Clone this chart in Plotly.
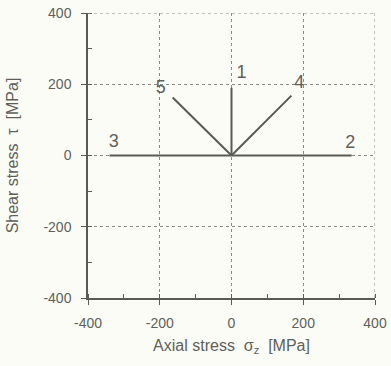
import plotly.graph_objects as go

# Data: load paths from origin (sigma_z, tau) in MPa
path_ids = ["1", "2", "3", "4", "5"]
end_x = [0, 335, -340, 167, -164]
end_y = [190, 0, 0, 168, 163]
label_x = [28, 331, -328, 189, -197]
label_y = [229, 34, 36, 201, 187]

x_ticks = [-400, -200, 0, 200, 400]
y_ticks = [-400, -200, 0, 200, 400]
tick_text = ["-400", "-200", "0", "200", "400"]

line_col = "#5a5a55"
text_col = "#5f5f5a"
font_fam = "Liberation Sans, Arial, sans-serif"

fig = go.Figure()
for pid, ex, ey in zip(path_ids, end_x, end_y):
    fig.add_trace(go.Scatter(x=[0, ex], y=[0, ey], mode="lines",
                             line=dict(color=line_col, width=2),
                             showlegend=False, hoverinfo="skip"))

fig.add_trace(go.Scatter(x=label_x, y=label_y, mode="text", text=path_ids,
                         textfont=dict(size=18, color=text_col, family=font_fam),
                         showlegend=False, hoverinfo="skip"))

axis_common = dict(
    showgrid=True, gridcolor="#8a8a85", gridwidth=1, griddash="dot",
    zeroline=False, showline=True, linecolor=line_col, linewidth=1.5,
    ticks="outside", ticklen=5, tickwidth=1, tickcolor=line_col,
    minor=dict(ticks="inside", ticklen=4, dtick=100, tickcolor=line_col, showgrid=False),
    tickfont=dict(size=14, color=text_col, family=font_fam),
    mirror=False, automargin=False,
)

fig.update_xaxes(range=[-400, 400], tickvals=x_ticks, ticktext=tick_text,
                 ticklabelstandoff=6, **axis_common,
                 title=dict(text="Axial stress  σ<sub>z</sub>  [MPa]",
                            font=dict(size=16, color=text_col, family=font_fam),
                            standoff=10))
fig.update_yaxes(range=[-400, 400], tickvals=y_ticks, ticktext=tick_text,
                 ticklabelstandoff=7, **axis_common,
                 title=dict(text="Shear stress  τ  [MPa]",
                            font=dict(size=16, color=text_col, family=font_fam),
                            standoff=21))

# dotted frame on top and right
fig.add_shape(type="line", xref="x", yref="y", x0=-400, x1=400, y0=400, y1=400,
              line=dict(color="#8a8a85", width=1, dash="dot"))
fig.add_shape(type="line", xref="x", yref="y", x0=400, x1=400, y0=-400, y1=400,
              line=dict(color="#8a8a85", width=1, dash="dot"))

fig.update_layout(
    width=391, height=366,
    margin=dict(l=88, r=16, t=13, b=68, autoexpand=False),
    paper_bgcolor="#fbfcf6", plot_bgcolor="#fbfcf6",
)

fig.write_html("out.html")
